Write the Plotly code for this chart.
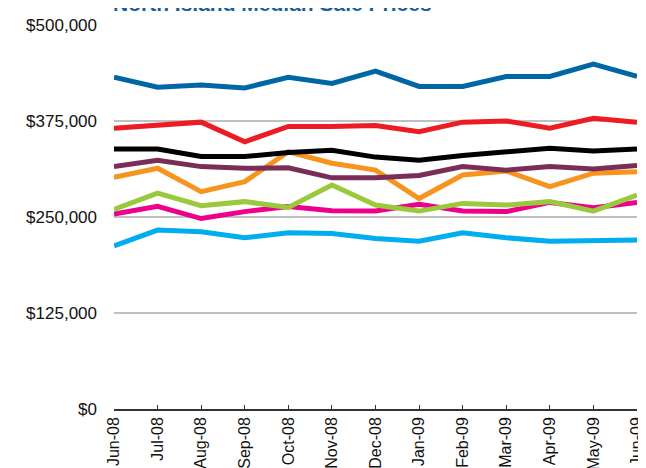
import plotly.graph_objects as go

months = ["Jun-08", "Jul-08", "Aug-08", "Sep-08", "Oct-08", "Nov-08", "Dec-08",
          "Jan-09", "Feb-09", "Mar-09", "Apr-09", "May-09", "Jun-09"]

dark_blue = [432000, 419000, 422000, 418000, 432000, 424000, 440000,
             420000, 420000, 433000, 433000, 449000, 433000]
red = [365700, 370000, 373500, 348000, 368000, 368000, 369000,
       361000, 373500, 375000, 365700, 378500, 373500]
black = [338600, 338600, 328700, 328700, 334000, 337000, 328000,
         324000, 330000, 335000, 339500, 336000, 338600]
maroon = [315600, 324000, 315600, 313500, 314000, 301000, 301000,
          304000, 315600, 311000, 315600, 312500, 317000]
orange = [301700, 313500, 283000, 296000, 335000, 320000, 311000,
          274000, 304700, 310000, 289500, 307000, 309000]
green = [260000, 281000, 264700, 270000, 262500, 291600, 265500,
         257700, 267700, 265500, 270000, 257700, 278600]
pink = [253800, 264000, 248000, 257000, 263500, 258000, 257700,
        266400, 257700, 257000, 269000, 262000, 269000]
light_blue = [212500, 233000, 230800, 223000, 229500, 228600, 222000,
              218500, 229500, 223000, 218500, 218500, 220000]

y_ticks = [0, 125000, 250000, 375000, 500000]
y_tick_labels = ["$0", "$125,000", "$250,000", "$375,000", "$500,000"]

series = [
    ("Series 8", light_blue, "#00AEEF"),
    ("Series 7", pink, "#EC008C"),
    ("Series 6", green, "#9ACA3C"),
    ("Series 5", orange, "#F7941D"),
    ("Series 4", maroon, "#7A2E57"),
    ("Series 3", black, "#000000"),
    ("Series 2", red, "#ED1C24"),
    ("Series 1", dark_blue, "#0067A6"),
]

fig = go.Figure()
for name, vals, color in series:
    fig.add_trace(go.Scatter(x=months, y=vals, mode="lines", name=name,
                             line=dict(color=color, width=5), showlegend=False))

fig.update_layout(
    width=646, height=468,
    margin=dict(l=106, r=17, t=17, b=67),
    paper_bgcolor="white", plot_bgcolor="white",
    font=dict(family="Liberation Sans, Arial, sans-serif", size=16, color="#000000"),
    annotations=[dict(text="<b>North Island Median Sale Prices</b>", xref="paper", yref="paper",
                      x=-0.006, y=1.022, xanchor="left", yanchor="bottom", showarrow=False,
                      font=dict(size=21, color="#1B5E9A"))],
)
fig.update_xaxes(
    type="category", range=[0, 12], tickangle=-90, showgrid=False, automargin=False,
    showline=True, linecolor="#333333", linewidth=1.5,
    ticks="inside", ticklen=4, tickcolor="#333333", tickwidth=1.2,
    tickfont=dict(size=16, color="#111111"),
)
fig.update_yaxes(
    range=[0, 500000], tickvals=y_ticks, ticktext=y_tick_labels, automargin=False,
    showgrid=True, gridcolor="#C0C0C0", gridwidth=1.5, zeroline=False,
    ticks="", ticklabelstandoff=16,
    tickfont=dict(size=17, color="#111111"),
)

fig.write_html("out.html")
